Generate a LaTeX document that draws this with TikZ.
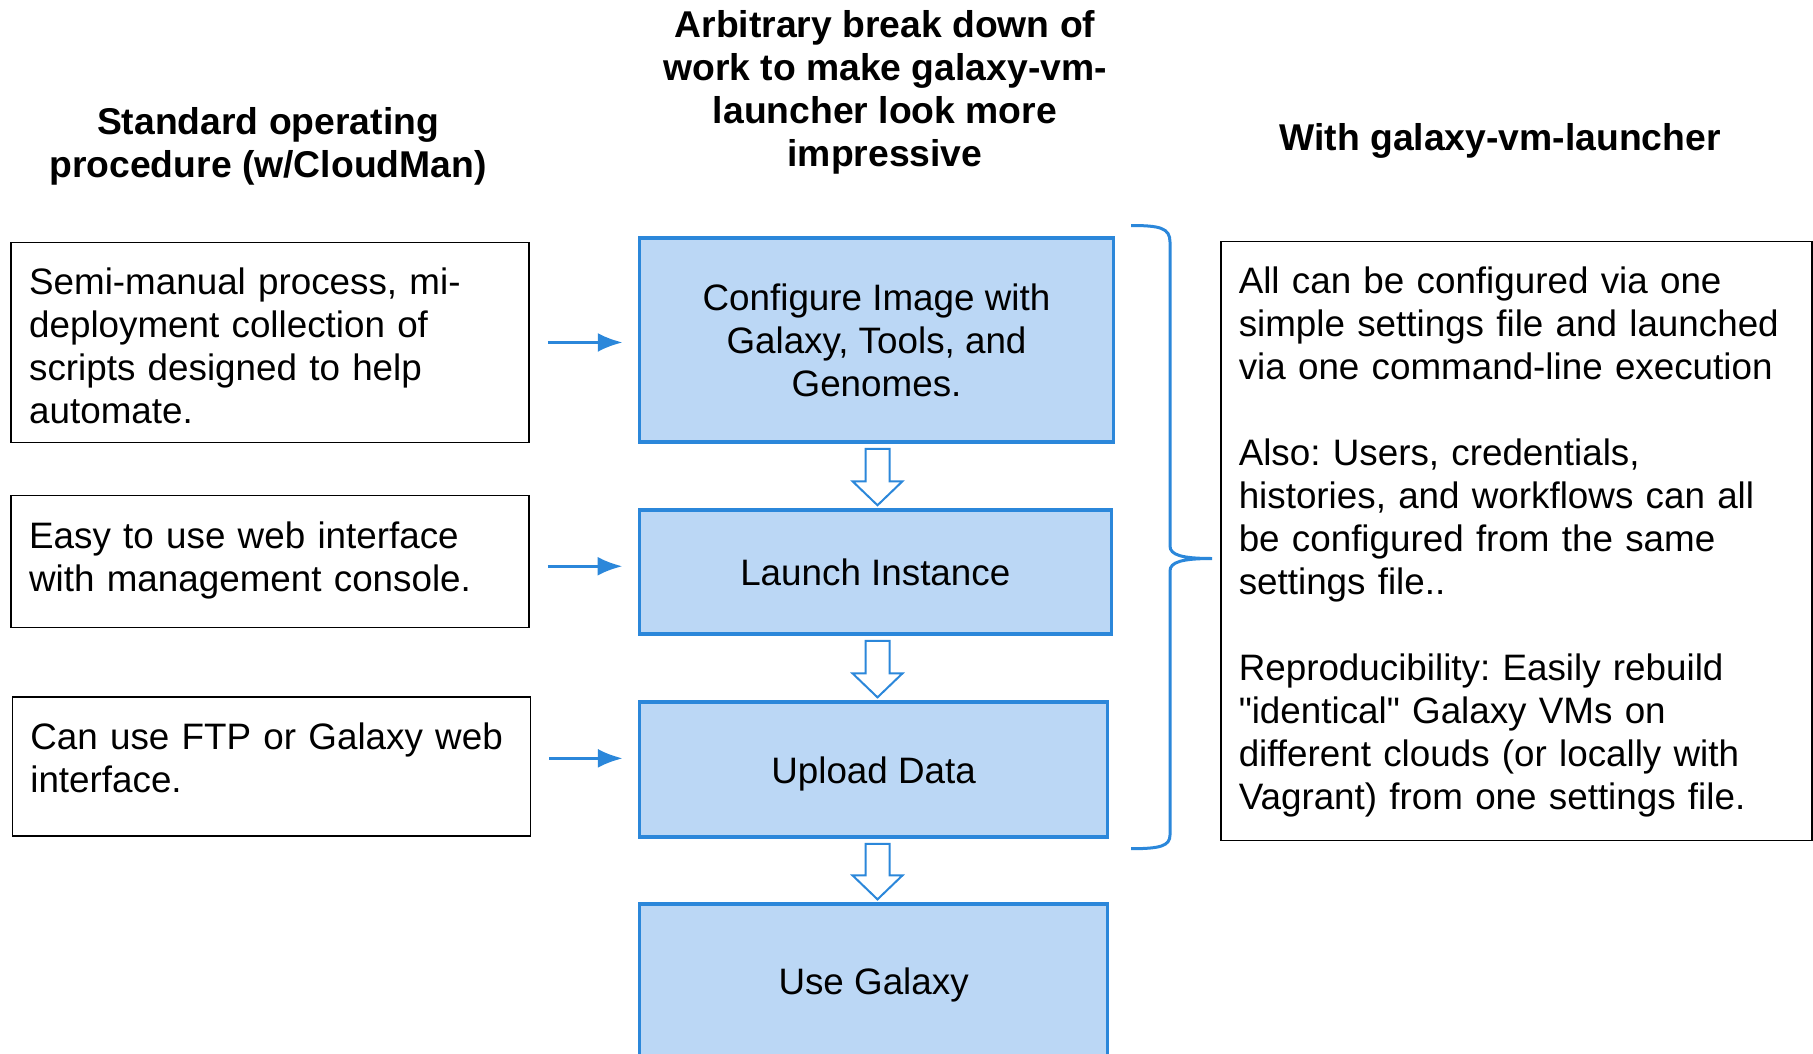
\documentclass[tikz,border=0pt]{standalone}
\usepackage{fontspec}
\setmainfont{Liberation Sans}[Ligatures=TeXOff]
\usetikzlibrary{calc,arrows.meta}
\definecolor{stepblue}{HTML}{2B87DA}
\definecolor{stepfill}{HTML}{BBD7F5}
\frenchspacing

\begin{document}
\begin{tikzpicture}[x=1pt,y=-1pt] % 1 unit = 1 pixel, y grows downwards
    \newcommand\DrawHollowArrow[2]{% hollow arrow from box #1 down to box #2
        \coordinate (hTop) at ($(#1.south -| configure.south)+(1,5)$);
        \coordinate (hTip) at ($(hTop |- #2.north)+(0,-3)$);
        \draw[hollow arrow] ($(hTop)+(-12,0)$) -- ($(hTop)+(12,0)$)
            -- ($(hTip)+(12,-24)$) -- ($(hTip)+(25,-24)$) -- (hTip)
            -- ($(hTip)+(-25,-24)$) -- ($(hTip)+(-12,-24)$) -- cycle;
    }

    \tikzset{%
        >={Latex[length=25pt,width=19pt]}, % filled arrow tips
        every node/.style={font=\fontsize{36.8}{43}\selectfont},
        header/.style={align=center,font=\fontsize{37.3}{43}\selectfont\bfseries},
        note/.style={draw=black,line width=1.5pt,anchor=north west,align=left,
                text width=#1,inner xsep=18pt,inner ysep=0pt,text height=52.5pt},
        stepbox/.style={draw=stepblue,fill=stepfill,line width=3.5pt,align=center,
                minimum width=#1},
        oneline/.style={text height=27pt,text depth=0pt},
        hollow arrow/.style={draw=stepblue,fill=white,line width=2pt},
        feed/.style={->,draw=stepblue,line width=3.3pt,shorten <=18pt,shorten >=15pt},
        bracket/.style={draw=stepblue,line width=3pt}%
    }

    %% page frame

    \useasboundingbox (0,0) rectangle (1813,1053);
    \clip (0,0) rectangle (1813,1053);

    %% column headings

    \node[header] (hSop) at (268,146) {Standard operating\\procedure (w/CloudMan)};
    \node[header] (hSteps) at (885,92.3) {Arbitrary break down of\\work to make galaxy-vm-\\launcher look more\\impressive};
    \node[header] (hLauncher) at (1500,141.3) {With galaxy-vm-launcher};

    %% the four steps

    \node[stepbox=474,minimum height=204] (configure) at (876.5,340) {Configure Image with\\Galaxy, Tools, and\\Genomes.};
    \node[stepbox=472,minimum height=124,oneline] (launch) at (875.3,572) {Launch Instance};
    \node[stepbox=468,minimum height=135,oneline] (upload) at (873.6,769.6) {Upload Data};
    \node[stepbox=468,minimum height=153,oneline] (use) at (873.6,980.6) {Use Galaxy};

    \DrawHollowArrow{configure}{launch}
    \DrawHollowArrow{launch}{upload}
    \DrawHollowArrow{upload}{use}

    %% CloudMan notes on the left

    \node[note=482,text depth=147.5] (sopConfigure) at (10.4,241.7) {Semi-manual process, mi-\\deployment collection of\\scripts designed to help\\automate.};
    \node[note=482,text depth=79.5] (sopLaunch) at (10.4,494.9) {Easy to use web interface\\with management console.};
    \node[note=482,text depth=86.5] (sopUpload) at (11.6,696.1) {Can use FTP or Galaxy web\\interface.};

    \coordinate (feedLaunch) at ([yshift=-4.6pt]sopLaunch.east);
    \coordinate (feedUpload) at ([yshift=8pt]sopUpload.east);
    \draw[feed] (sopConfigure.east) -- (sopConfigure.east -| configure.west);
    \draw[feed] (feedLaunch) -- (feedLaunch -| launch.west);
    \draw[feed] (feedUpload) -- (feedUpload -| upload.west);

    %% bracket over the first three steps

    \draw[bracket] (1131,225.5) .. controls (1160,225.5) and (1170,228) .. (1170,242)
        -- (1170,546) .. controls (1170,555) and (1182,558.5) .. (1212,558.5)
        .. controls (1182,558.5) and (1170,562) .. (1170,571)
        -- (1170,835) .. controls (1170,846) and (1160,848.7) .. (1131,848.7);

    %% launcher summary on the right

    \node[note=555,text depth=546.5] (launcherNote) at (1220,240.5) {All can be configured via one\\simple settings file and launched\\via one command-line execution\\[43pt]Also: Users, credentials,\\histories, and workflows can all\\be configured from the same\\settings file..\\[43pt]Reproducibility: Easily rebuild\\"identical" Galaxy VMs on\\different clouds (or locally with\\Vagrant) from one settings file.};
\end{tikzpicture}
\end{document}
